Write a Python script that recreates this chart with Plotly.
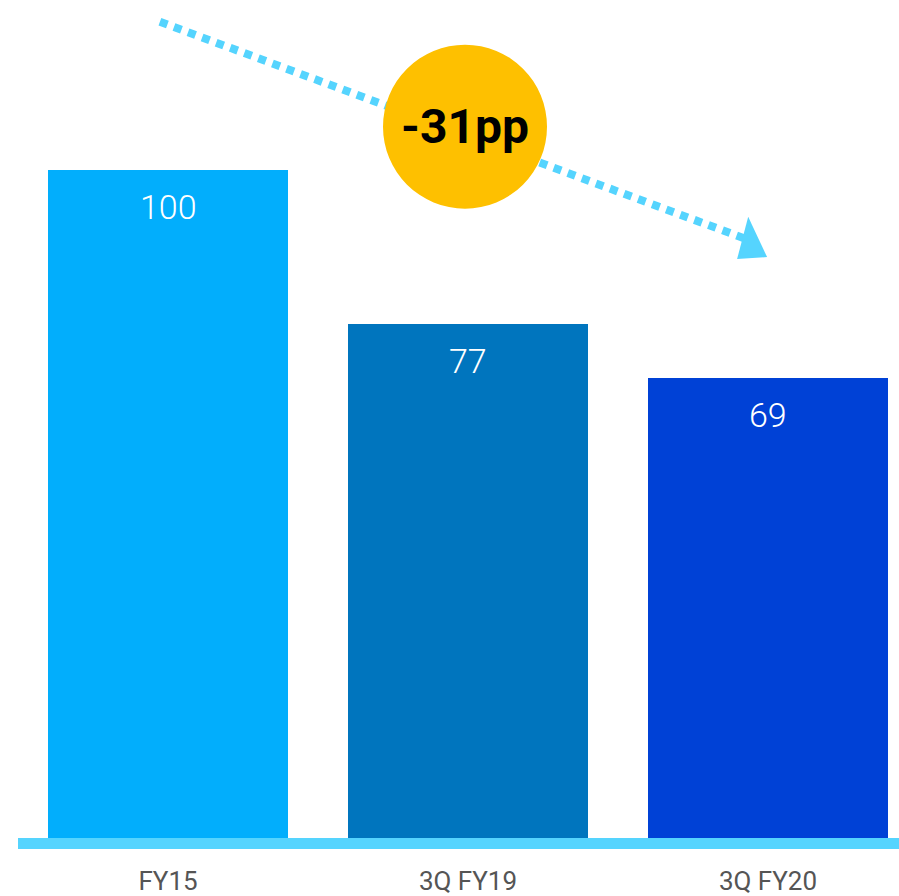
import plotly.graph_objects as go

# Index values by period
categories = ["FY15", "3Q FY19", "3Q FY20"]
values = [100, 77, 69]
bar_colors = ["#02AEFC", "#0075BE", "#0041D6"]
change_label = "-31pp"

Y_MAX = 125.24
x_pos = list(range(len(categories)))

fig = go.Figure()
fig.add_trace(go.Bar(
    x=x_pos, y=values, width=0.8,
    marker=dict(color=bar_colors, line=dict(width=0)),
    hoverinfo="skip",
))

# value labels inside bar tops
for xi, v in zip(x_pos, values):
    fig.add_annotation(
        x=xi, y=v, text=str(v), showarrow=False,
        yanchor="middle", yshift=-37,
        font=dict(family="Roboto, Open Sans, sans-serif", size=34, color="white", weight=300),
    )

# baseline strip
fig.add_shape(type="line", xref="paper", yref="paper", x0=0, x1=1, y0=-0.0018, y1=-0.0018,
              line=dict(color="#55D4FE", width=11), layer="above")

# dotted trend arrow from first to last period
arrow_color = "#55D4FE"
x0, y0 = x_pos[0] - 0.027, 122.0
x1, y1 = x_pos[-1] - 0.08, 89.8
fig.add_shape(type="line", x0=x0, y0=y0, x1=x1, y1=y1,
              line=dict(color=arrow_color, width=8, dash="8px,7px"), layer="above")
# arrow head
tip_x, tip_y = x_pos[-1] - 0.003, 87.0
fig.add_shape(type="path", layer="above", fillcolor=arrow_color, line=dict(width=0),
              path=f"M {tip_x - 0.063},{y1 + 3.2} L {tip_x},{tip_y} L {tip_x - 0.1},{tip_y - 0.3} Z")

# change badge
cx, cy = x_pos[1] - 0.01, 106.4
fig.add_shape(type="circle", xsizemode="pixel", ysizemode="pixel",
              xanchor=cx, yanchor=cy, x0=-82, x1=82, y0=-82, y1=82,
              fillcolor="#FEC000", line=dict(width=0), layer="above")
fig.add_annotation(x=cx, y=cy, text=f"<b>{change_label}</b>", showarrow=False,
                   font=dict(family="Roboto, sans-serif", size=48, color="black", weight=900))

fig.update_layout(
    width=899, height=896,
    margin=dict(l=18, r=0, t=0, b=52),
    paper_bgcolor="white", plot_bgcolor="white",
    showlegend=False,
    bargap=0,
    xaxis=dict(range=[-0.5, -0.5 + 881 / 300], tickvals=x_pos, ticktext=categories,
               showgrid=False, zeroline=False, showline=False, ticks="",
               ticklabelstandoff=21,
               tickfont=dict(family="Roboto, sans-serif", size=26, color="#555555")),
    yaxis=dict(range=[0, Y_MAX], visible=False, showgrid=False, zeroline=False),
)

fig.write_html("out.html")
